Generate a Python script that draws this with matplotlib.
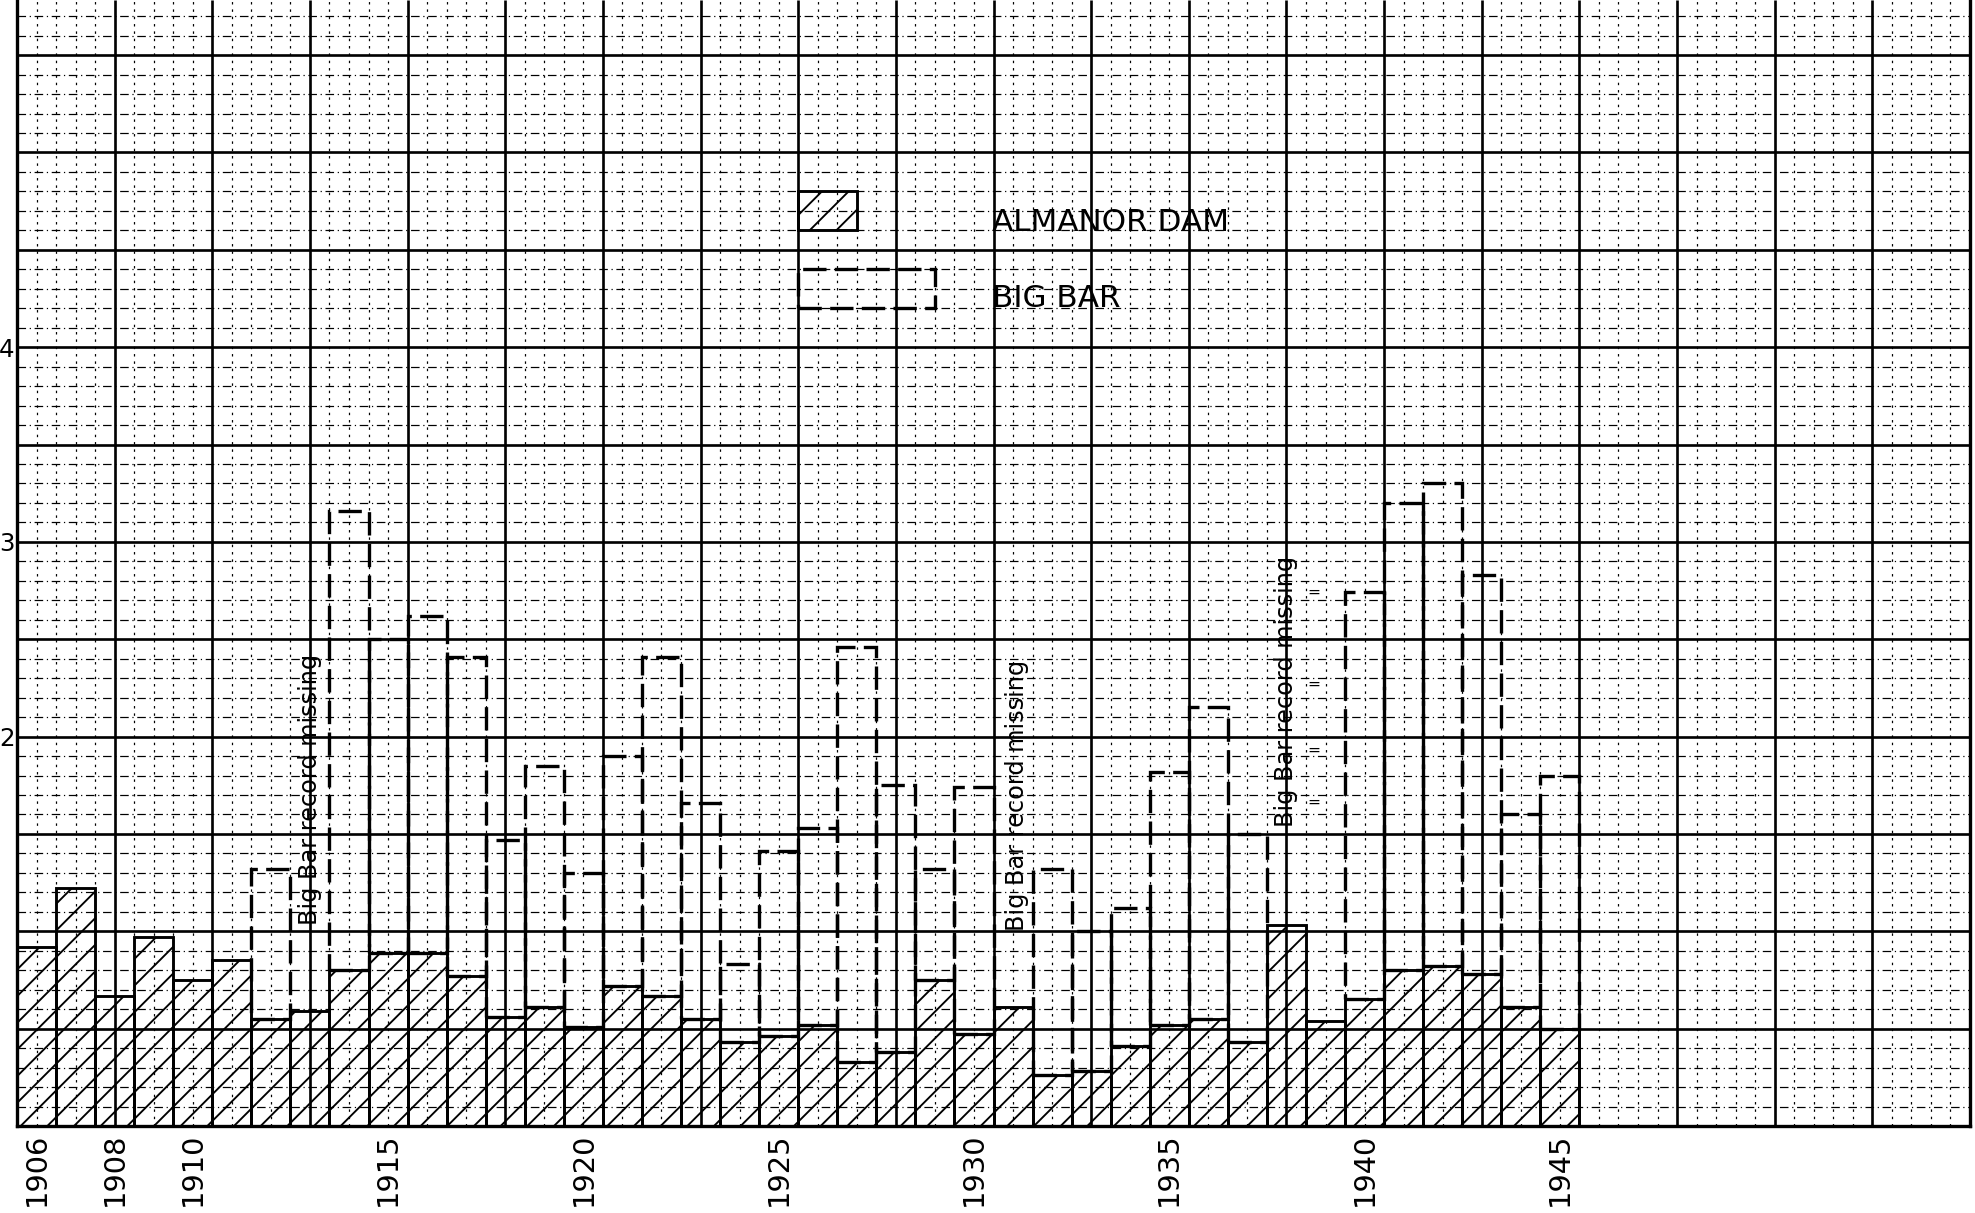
import numpy as np
import matplotlib
matplotlib.use('Agg')
import matplotlib.pyplot as plt
from matplotlib.patches import Rectangle

# Annual values
years = list(range(1906, 1946))
almanor = [0.92, 1.22, 0.67, 0.97, 0.75, 0.85, 0.55, 0.59, 0.80, 0.89,
           0.89, 0.77, 0.56, 0.61, 0.51, 0.72, 0.67, 0.55, 0.43, 0.46,
           0.52, 0.33, 0.38, 0.75, 0.47, 0.61, 0.26, 0.28, 0.41, 0.52,
           0.55, 0.43, 1.03, 0.54, 0.65, 0.80, 0.82, 0.78, 0.61, 0.50]
# None = Big Bar record missing
big_bar = [None, None, None, None, None, None, 1.32, None, 3.16, 2.50,
           2.62, 2.41, 1.47, 1.85, 1.30, 1.90, 2.41, 1.66, 0.83, 1.41,
           1.53, 2.46, 1.75, 1.32, 1.74, None, 1.32, 1.00, 1.12, 1.82,
           2.15, 1.50, None, None, 2.74, 3.20, 3.30, 2.83, 1.60, 1.80]
label_years = [1906, 1908, 1910, 1915, 1920, 1925, 1930, 1935, 1940, 1945]
y_labels = [2, 3, 4]
missing_notes = [(1913.0, 1.73), (1931.1, 1.70), (1938.0, 2.23)]

plt.rcParams['font.family'] = 'DejaVu Sans'
plt.rcParams['hatch.linewidth'] = 0.85

# at dpi 160 the '//' hatch repeats every ~27 px, like the original
DPI = 160
fig = plt.figure(figsize=(1975 / DPI, 1213 / DPI), dpi=DPI)
ax = fig.add_axes([17 / 1975, 87 / 1213, 1953 / 1975, 1126 / 1213])
ax.set_xlim(1905.5, 1955.5)
ax.set_ylim(0, 5.783)

# graph paper: heavy lines every 2.5 yr / 0.5 unit, light every 0.5 yr / 0.1 unit
xs = np.arange(1905.5, 1955.51, 0.5)
ys = np.arange(0, 5.8, 0.1)
x_major = [x for x in xs if abs(((x - 1905.5) / 2.5) - round((x - 1905.5) / 2.5)) < 1e-6]
x_minor = [x for x in xs if x not in x_major]
y_major = [y for y in ys if abs(y / 0.5 - round(y / 0.5)) < 1e-6]
y_minor = [y for y in ys if y not in y_major]
ax.vlines(x_minor, 0, 5.783, colors='black', linewidth=0.55, linestyles=(0, (2, 4)), zorder=0)
ax.hlines(y_minor, 1905.5, 1955.5, colors='black', linewidth=0.55, linestyles=(0, (7, 3, 1, 3)), zorder=0)
ax.vlines(x_major, 0, 5.783, colors='black', linewidth=1.2, zorder=1)
ax.hlines(y_major, 1905.5, 1955.5, colors='black', linewidth=1.2, zorder=1)

yrs = np.array(years)
alm = np.array(almanor)
bb = np.array([np.nan if v is None else v for v in big_bar])
ok = ~np.isnan(bb)

ax.bar(yrs[ok], bb[ok] - alm[ok], bottom=alm[ok], width=1.0, fill=False,
       edgecolor='black', linewidth=1.5, linestyle=(0, (7, 2.5)), zorder=3)
ax.bar(yrs, alm, width=1.0, facecolor='none', edgecolor='black', hatch='//',
       linewidth=1.3, zorder=4)

# legend drawn on the paper
ax.add_patch(Rectangle((1925.5, 4.6), 1.5, 0.2, facecolor='none', edgecolor='black',
                       hatch='//', linewidth=1.3, zorder=4))
ax.add_patch(Rectangle((1925.5, 4.2), 3.5, 0.2, fill=False, edgecolor='black',
                       linewidth=1.5, linestyle=(0, (7, 2.5)), zorder=4))
ax.text(1930.45, 4.64, 'ALMANOR DAM', fontsize=14, va='center', ha='left', zorder=5)
ax.text(1930.45, 4.25, 'BIG BAR', fontsize=14, va='center', ha='left', zorder=5)

for x, y in missing_notes:
    ax.text(x, y, 'Big Bar record missing', rotation=90, ha='center', va='center',
            fontsize=10.8, zorder=5)
for v in [2.74, 2.27, 1.93, 1.66]:
    ax.text(1938.7, v, '=', fontsize=7, ha='center', va='center', zorder=5)

ax.set_xticks(label_years)
ax.set_xticklabels([str(y) for y in label_years], rotation=90, fontsize=13)
ax.tick_params(axis='x', length=0, pad=3)
ax.set_yticks(y_labels)
ax.set_yticklabels([str(y) for y in y_labels], fontsize=11)
ax.tick_params(axis='y', length=0, pad=1)

ax.spines['top'].set_visible(False)
for s in ['left', 'bottom', 'right']:
    ax.spines[s].set_linewidth(1.5)

fig.savefig('out.png', dpi=DPI, facecolor='white')
